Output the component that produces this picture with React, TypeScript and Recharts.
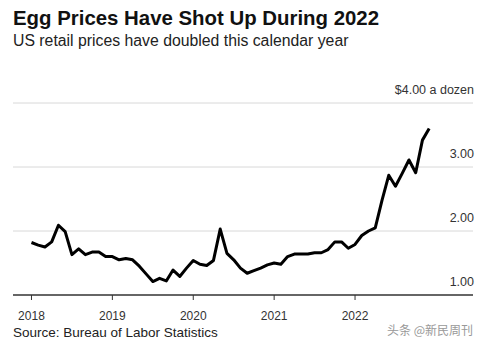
import React from "react";
import { LineChart, Line, XAxis, YAxis, CartesianGrid } from "recharts";

const years = ["2018", "2019", "2020", "2021", "2022"];
const yearTicks = [0, 12, 24, 36, 48];
const priceTicks = [1, 2, 3, 4];
const prices = [
  1.82, 1.78, 1.75, 1.83, 2.09, 1.99, 1.63, 1.72, 1.63, 1.67, 1.67, 1.6,
  1.6, 1.55, 1.57, 1.55, 1.45, 1.33, 1.21, 1.26, 1.22, 1.39, 1.29, 1.42,
  1.54, 1.48, 1.46, 1.54, 2.03, 1.65, 1.55, 1.42, 1.34, 1.38, 1.42, 1.47,
  1.5, 1.48, 1.6, 1.64, 1.64, 1.64, 1.66, 1.66, 1.71, 1.83, 1.83, 1.73,
  1.79, 1.93, 2.0, 2.05, 2.48, 2.87, 2.7, 2.9, 3.11, 2.91, 3.42, 3.6,
];

const data = prices.map((p, i) => ({ i, price: p }));

const FONT = "'Liberation Sans', Arial, sans-serif";

const YTick = (props: any) => {
  const { x, y, payload } = props;
  const v = payload.value as number;
  const label = v === 4 ? "$4.00 a dozen" : v.toFixed(2);
  return (
    <text
      x={x + 1}
      y={y - 9}
      textAnchor="end"
      fontSize={12.5}
      fill="#333"
      fontFamily={FONT}
    >
      {label}
    </text>
  );
};

export default function App() {
  return (
    <div
      style={{
        position: "absolute",
        left: 0,
        top: 0,
        width: 485,
        height: 350,
        background: "#fff",
        fontFamily: FONT,
        overflow: "hidden",
      }}
    >
      <div style={{ position: "absolute", left: 0, top: 0 }}>
        <LineChart
          width={485}
          height={350}
          data={data}
          margin={{ top: 103, right: 11, left: 13, bottom: 25 }}
        >
          <CartesianGrid
            vertical={false}
            stroke="#d8d8d8"
            strokeWidth={1}
          />
          <XAxis
            dataKey="i"
            type="number"
            domain={[-2.74, 65.5]}
            ticks={yearTicks}
            tickFormatter={(v: number) => years[Math.round(v / 12)]}
            interval={0}
            height={30}
            axisLine={{ stroke: "#666", strokeWidth: 2 }}
            tickLine={{ stroke: "#333", strokeWidth: 1 }}
            tickSize={5}
            tickMargin={11}
            tick={{ fontSize: 12, fill: "#333", fontFamily: FONT }}
            allowDataOverflow
          />
          <YAxis
            orientation="right"
            domain={[1, 4]}
            ticks={priceTicks}
            width={1}
            axisLine={false}
            tickLine={false}
            tickSize={0}
            tickMargin={0}
            tick={<YTick />}
            allowDataOverflow
          />
          <Line
            type="linear"
            dataKey="price"
            stroke="#000"
            strokeWidth={3}
            strokeLinejoin="round"
            dot={false}
            isAnimationActive={false}
          />
        </LineChart>
      </div>
      <div
        style={{
          position: "absolute",
          left: 13,
          top: 8,
          fontSize: 20.4,
          lineHeight: "21px",
          fontWeight: 700,
          color: "#111",
          whiteSpace: "nowrap",
        }}
      >
        Egg Prices Have Shot Up During 2022
      </div>
      <div
        style={{
          position: "absolute",
          left: 13,
          top: 33,
          fontSize: 15.8,
          lineHeight: "16px",
          color: "#222",
          whiteSpace: "nowrap",
        }}
      >
        US retail prices have doubled this calendar year
      </div>
      <div
        style={{
          position: "absolute",
          left: 13,
          top: 326,
          fontSize: 13.5,
          lineHeight: "14px",
          color: "#222",
          whiteSpace: "nowrap",
        }}
      >
        Source: Bureau of Labor Statistics
      </div>
      <div
        style={{
          position: "absolute",
          right: 12,
          top: 323,
          fontSize: 12,
          lineHeight: "14px",
          color: "#999",
          whiteSpace: "nowrap",
          fontFamily: "'Noto Sans CJK SC', sans-serif",
        }}
      >
        头条 @新民周刊
      </div>
    </div>
  );
}
